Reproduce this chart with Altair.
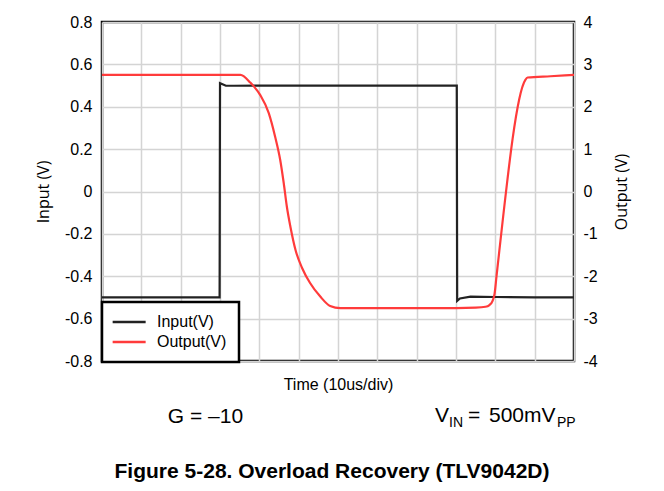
import altair as alt
import pandas as pd

# ---- data (time in 10us divisions) ----
in_t = [0, 2.99, 3.0, 3.05, 3.15, 3.35, 5.0, 7.0, 9.02, 9.03, 9.1, 9.37, 10.0, 11.0, 12.0]
in_v = [-0.5, -0.5, 0.511, 0.507, 0.499, 0.499, 0.5, 0.5, 0.5, -0.516, -0.505, -0.496, -0.498, -0.5, -0.5]

out_t = [0, 3.26, 3.52, 3.77, 4.02, 4.24, 4.40, 4.53, 4.62, 4.70, 4.79, 4.92, 5.09, 5.29,
         5.55, 5.80, 6.06, 7.5, 9.0, 9.5, 9.75, 9.85, 9.93, 9.98, 10.03, 10.76, 10.82, 11.4, 12.0]
out_v = [2.75, 2.75, 2.75, 2.57, 2.28, 1.85, 1.30, 0.75, 0.20, -0.36, -0.83, -1.38, -1.81, -2.16,
         -2.48, -2.70, -2.75, -2.75, -2.75, -2.74, -2.72, -2.68, -2.58, -2.42, -2.0, 2.63, 2.69, 2.72, 2.75]

series_names = ["Input(V)", "Output(V)"]
series_colors = ["#222222", "#ff3b3b"]
left_ticks = [-0.8, -0.6, -0.4, -0.2, 0, 0.2, 0.4, 0.6, 0.8]
right_ticks = [-4, -3, -2, -1, 0, 1, 2, 3, 4]
time_grid = list(range(0, 13))

df_in = pd.DataFrame({"t": in_t, "v": in_v, "series": series_names[0]})
df_out = pd.DataFrame({"t": out_t, "v": out_v, "series": series_names[1]})

W, H = 472, 339
LABEL_FONT = "Liberation Sans"
TITLE_FONT = "Open Sans"

color = alt.Color(
    "series:N",
    scale=alt.Scale(domain=series_names, range=series_colors),
    legend=alt.Legend(
        title=None, orient="none", legendX=0, legendY=280,
        strokeColor="black", fillColor="white", padding=12, rowPadding=4,
        symbolType="M-1.7,0H4.3", symbolSize=121, symbolStrokeWidth=2.5,
        labelOffset=27, labelFont=LABEL_FONT, labelFontSize=16, labelColor="black",
    ),
)

x_enc = alt.X(
    "t:Q",
    scale=alt.Scale(domain=[0, 12], nice=False, zero=False),
    axis=alt.Axis(
        values=time_grid, labels=False, ticks=False, domain=False, grid=True,
        title="Time (10us/div)", titleX=W / 2, titleY=23, titleAlign="center",
        titleBaseline="middle", titleFont=LABEL_FONT, titleFontSize=16,
        titleFontWeight="normal", titleColor="black",
    ),
)

left_expr = ("datum.value == 0 ? '0' : (datum.value < 0 ? '-' + format(-datum.value, '.1f')"
             " : format(datum.value, '.1f'))")
right_expr = ("datum.value < 0 ? '-' + format(-datum.value, 'd') : format(datum.value, 'd')")

inp = alt.Chart(df_in).mark_line(strokeWidth=2.2, interpolate="linear").encode(
    x=x_enc,
    y=alt.Y(
        "v:Q",
        scale=alt.Scale(domain=[-0.8, 0.8], nice=False, zero=False),
        axis=alt.Axis(
            orient="left", values=left_ticks, labelExpr=left_expr, ticks=False, domain=False,
            grid=True, labelPadding=10, labelFont=LABEL_FONT, labelFontSize=16, labelColor="black",
            title="Input (V)", titleX=-59, titleY=H / 2, titleAngle=270, titleAlign="center",
            titleBaseline="middle", titleFont=TITLE_FONT, titleFontSize=16,
            titleFontWeight="normal", titleColor="black",
        ),
    ),
    color=color,
)

out = alt.Chart(df_out).mark_line(strokeWidth=2.2, interpolate="monotone").encode(
    x=x_enc,
    y=alt.Y(
        "v:Q",
        scale=alt.Scale(domain=[-4, 4], nice=False, zero=False),
        axis=alt.Axis(
            orient="right", values=right_ticks, labelExpr=right_expr, ticks=False, domain=False,
            grid=False, labelPadding=9, labelFont=LABEL_FONT, labelFontSize=16, labelColor="black",
            title="Output (V)", titleX=47.7, titleY=H / 2, titleAngle=270, titleAlign="center",
            titleBaseline="middle", titleFont=TITLE_FONT, titleFontSize=16,
            titleFontWeight="normal", titleColor="black",
        ),
    ),
    color=color,
)


def note(text, px, py, size, align="left", weight="normal"):
    return alt.Chart(pd.DataFrame({"k": [0]})).mark_text(
        font=LABEL_FONT, fontSize=size, fontWeight=weight, align=align,
        baseline="alphabetic", color="black",
    ).encode(x=alt.value(px), y=alt.value(py), text=alt.value(text))


notes = [
    note("G = \u201310", 103.5, 401, 21, align="center"),
    note("V", 333, 400.3, 21),
    note("IN", 347, 404.5, 14),
    note("=", 366, 400.3, 21),
    note("500mV", 387, 400.3, 21),
    note("PP", 455, 404.5, 14),
    note("Figure 5-28. Overload Recovery (TLV9042D)", 230, 455.7, 21, align="center", weight="bold"),
]

chart = alt.layer(inp, out, *notes).resolve_scale(y="independent").properties(
    width=W, height=H,
    autosize=alt.AutoSizeParams(type="none"),
    padding={"left": 94, "top": 14, "right": 80, "bottom": 126},
).configure_view(
    stroke="black", strokeWidth=2.5
).configure_axis(
    gridColor="#d4d4d4", gridWidth=1.5, gridOpacity=1
).configure_legend(
    strokeWidth=2.5
)

chart.save("out.html", embed_options={"renderer": "svg", "actions": False})
